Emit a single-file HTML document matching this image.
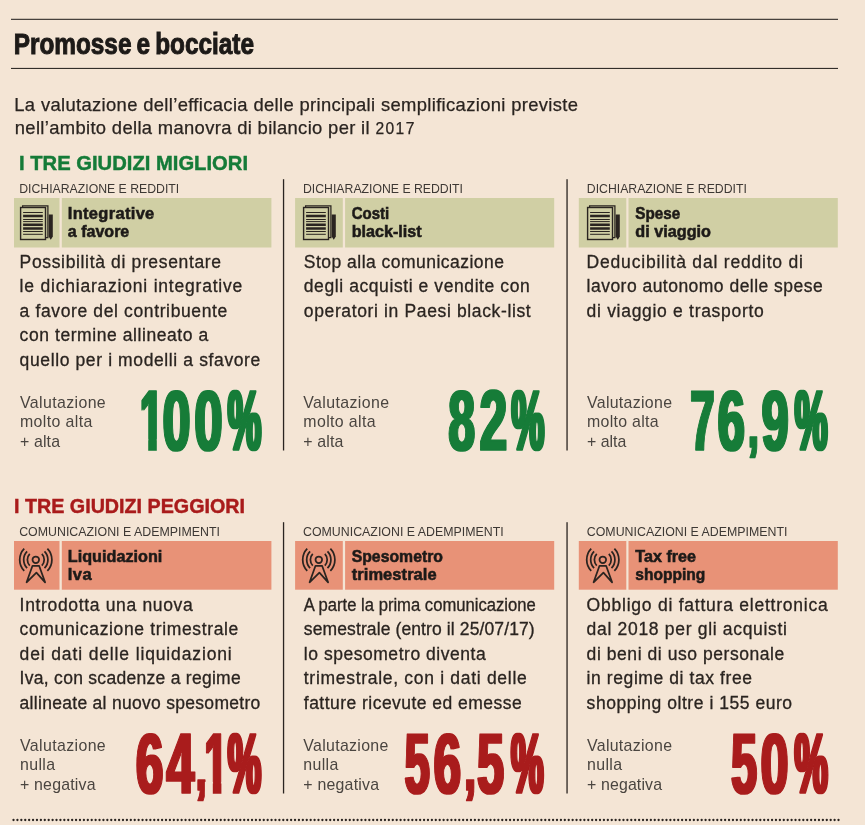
<!DOCTYPE html>
<html lang="it">
<head>
<meta charset="utf-8">
<title>Promosse e bocciate</title>
<style>
html,body{margin:0;padding:0;background:#f4e5d5;}
body{width:865px;height:825px;overflow:hidden;}
svg{display:block;font-family:"Liberation Sans",sans-serif;}
</style>
</head>
<body>
<svg width="865" height="825" viewBox="0 0 865 825">
<defs><filter id="fat" x="-5%" y="-5%" width="110%" height="110%"><feMorphology operator="dilate" radius="1 0"/></filter></defs>
<rect width="865" height="825" fill="#f4e5d5"/>
<rect x="11.0" y="18.8" width="827.0" height="1.0" fill="#1d1a18"/>
<rect x="11.0" y="67.9" width="827.0" height="1.0" fill="#1d1a18"/>
<text x="13.7" y="54.2" font-size="29" font-weight="700" fill="#1d1a18" textLength="240.3" lengthAdjust="spacingAndGlyphs" word-spacing="-2" stroke="#1d1a18" stroke-width="1.0">Promosse e bocciate</text>
<text x="14.3" y="111.2" font-size="18.4" font-weight="400" fill="#2a2420" textLength="563.7" lengthAdjust="spacing" stroke="#2a2420" stroke-width="0.25">La valutazione dell’efficacia delle principali semplificazioni previste</text>
<text x="14.8" y="133.7" font-size="18.4" font-weight="400" fill="#2a2420" textLength="400.7" lengthAdjust="spacing" stroke="#2a2420" stroke-width="0.25">nell’ambito della manovra di bilancio per il <tspan font-size="15.6" letter-spacing="1.1">2017</tspan></text>
<g class="section section-doc">
<text x="19.0" y="169.8" font-size="21" font-weight="700" fill="#157b38" textLength="229.0" lengthAdjust="spacingAndGlyphs" stroke="#157b38" stroke-width="0.45">I TRE GIUDIZI MIGLIORI</text>
<rect x="282.9" y="179.2" width="1.3" height="271.3" fill="#2a2420"/>
<rect x="566.4" y="179.2" width="1.3" height="271.3" fill="#2a2420"/>
<g class="card">
<text x="19.2" y="193.0" font-size="13.5" font-weight="400" fill="#3d3834" textLength="160.0" lengthAdjust="spacingAndGlyphs">DICHIARAZIONE E REDDITI</text>
<rect x="14.0" y="198.0" width="45.5" height="49.5" fill="#d0cfa4"/>
<rect x="61.8" y="198.0" width="209.6" height="49.5" fill="#d0cfa4"/>
<g transform="translate(14.0,198.0)" fill="none" stroke="#2a2420">
<path d="M8.6 9 V7.9 H33.9 V39.5 H32" stroke-width="1.25"/>
<rect x="6.6" y="9.5" width="24.9" height="32" stroke-width="1.4" fill="#d0cfa4"/>
<path d="M9.1 14.5H28.8M9.1 21.5H28.8M9.1 23.6H28.8M9.1 33.5H28.8M9.1 36.3H28.8" stroke-width="1"/>
<path d="M9.1 17.9H28.8M9.1 26.7H28.8M9.1 30.6H28.8" stroke-width="2.5"/>
<path d="M34.7 16.6 h4.1 v21.8 l-2.05 3.4 l-2.05 -3.4 z" fill="#2a2420" stroke="none"/>
</g>
<text x="67.8" y="218.6" font-size="16.5" font-weight="700" fill="#1d1a18" textLength="86.5" lengthAdjust="spacing" stroke="#1d1a18" stroke-width="0.55">Integrative</text>
<text x="67.8" y="237.0" font-size="16.5" font-weight="700" fill="#1d1a18" textLength="61.5" lengthAdjust="spacingAndGlyphs" stroke="#1d1a18" stroke-width="0.55">a favore</text>
<text x="19.6" y="267.8" font-size="17.5" font-weight="400" fill="#2a2420" textLength="201.4" lengthAdjust="spacing" stroke="#2a2420" stroke-width="0.3">Possibilità di presentare</text>
<text x="19.6" y="292.3" font-size="17.5" font-weight="400" fill="#2a2420" textLength="222.7" lengthAdjust="spacing" stroke="#2a2420" stroke-width="0.3">le dichiarazioni integrative</text>
<text x="19.6" y="316.9" font-size="17.5" font-weight="400" fill="#2a2420" textLength="207.7" lengthAdjust="spacing" stroke="#2a2420" stroke-width="0.3">a favore del contribuente</text>
<text x="19.6" y="341.4" font-size="17.5" font-weight="400" fill="#2a2420" textLength="188.7" lengthAdjust="spacing" stroke="#2a2420" stroke-width="0.3">con termine allineato a</text>
<text x="19.6" y="365.9" font-size="17.5" font-weight="400" fill="#2a2420" textLength="240.7" lengthAdjust="spacing" stroke="#2a2420" stroke-width="0.3">quello per i modelli a sfavore</text>
<text x="20.0" y="407.7" font-size="15.9" font-weight="400" fill="#4a4540" textLength="85.7" lengthAdjust="spacing">Valutazione</text>
<text x="20.0" y="427.2" font-size="15.9" font-weight="400" fill="#4a4540" textLength="72.3" lengthAdjust="spacing">molto alta</text>
<text x="20.0" y="446.7" font-size="15.9" font-weight="400" fill="#4a4540" textLength="40.0" lengthAdjust="spacing">+ alta</text>
<text aria-label="100%" y="449.9" font-size="85.5" font-weight="700" fill="#157b38" stroke="#157b38" stroke-width="1.6" stroke-linejoin="round" filter="url(#fat)"><tspan x="139.90" textLength="23.18" lengthAdjust="spacingAndGlyphs">1</tspan><tspan x="162.79" textLength="27.60" lengthAdjust="spacingAndGlyphs">0</tspan><tspan x="194.56" textLength="27.95" lengthAdjust="spacingAndGlyphs">0</tspan><tspan x="227.81" font-size="83.5" dy="-0.9" stroke-width="2.6" textLength="33.53" lengthAdjust="spacingAndGlyphs">%</tspan></text>
</g>
<g class="card">
<text x="303.0" y="193.0" font-size="13.5" font-weight="400" fill="#3d3834" textLength="160.0" lengthAdjust="spacingAndGlyphs">DICHIARAZIONE E REDDITI</text>
<rect x="295.1" y="198.0" width="47.7" height="49.5" fill="#d0cfa4"/>
<rect x="345.1" y="198.0" width="209.1" height="49.5" fill="#d0cfa4"/>
<g transform="translate(297.0,198.0)" fill="none" stroke="#2a2420">
<path d="M8.6 9 V7.9 H33.9 V39.5 H32" stroke-width="1.25"/>
<rect x="6.6" y="9.5" width="24.9" height="32" stroke-width="1.4" fill="#d0cfa4"/>
<path d="M9.1 14.5H28.8M9.1 21.5H28.8M9.1 23.6H28.8M9.1 33.5H28.8M9.1 36.3H28.8" stroke-width="1"/>
<path d="M9.1 17.9H28.8M9.1 26.7H28.8M9.1 30.6H28.8" stroke-width="2.5"/>
<path d="M34.7 16.6 h4.1 v21.8 l-2.05 3.4 l-2.05 -3.4 z" fill="#2a2420" stroke="none"/>
</g>
<text x="351.7" y="218.6" font-size="16.5" font-weight="700" fill="#1d1a18" textLength="37.6" lengthAdjust="spacingAndGlyphs" stroke="#1d1a18" stroke-width="0.55">Costi</text>
<text x="351.7" y="237.0" font-size="16.5" font-weight="700" fill="#1d1a18" textLength="70.0" lengthAdjust="spacingAndGlyphs" stroke="#1d1a18" stroke-width="0.55">black-list</text>
<text x="303.8" y="267.8" font-size="17.5" font-weight="400" fill="#2a2420" textLength="200.2" lengthAdjust="spacing" stroke="#2a2420" stroke-width="0.3">Stop alla comunicazione</text>
<text x="303.8" y="292.3" font-size="17.5" font-weight="400" fill="#2a2420" textLength="225.9" lengthAdjust="spacing" stroke="#2a2420" stroke-width="0.3">degli acquisti e vendite con</text>
<text x="303.8" y="316.9" font-size="17.5" font-weight="400" fill="#2a2420" textLength="226.9" lengthAdjust="spacing" stroke="#2a2420" stroke-width="0.3">operatori in Paesi black-list</text>
<text x="303.3" y="407.7" font-size="15.9" font-weight="400" fill="#4a4540" textLength="85.7" lengthAdjust="spacing">Valutazione</text>
<text x="303.3" y="427.2" font-size="15.9" font-weight="400" fill="#4a4540" textLength="72.3" lengthAdjust="spacing">molto alta</text>
<text x="303.3" y="446.7" font-size="15.9" font-weight="400" fill="#4a4540" textLength="40.0" lengthAdjust="spacing">+ alta</text>
<text aria-label="82%" y="449.9" font-size="85.5" font-weight="700" fill="#157b38" stroke="#157b38" stroke-width="1.6" stroke-linejoin="round" filter="url(#fat)"><tspan x="448.55" textLength="26.36" lengthAdjust="spacingAndGlyphs">8</tspan><tspan x="479.65" textLength="27.26" lengthAdjust="spacingAndGlyphs">2</tspan><tspan x="511.53" font-size="83.5" dy="-0.9" stroke-width="2.6" textLength="32.79" lengthAdjust="spacingAndGlyphs">%</tspan></text>
</g>
<g class="card">
<text x="586.8" y="193.0" font-size="13.5" font-weight="400" fill="#3d3834" textLength="160.0" lengthAdjust="spacingAndGlyphs">DICHIARAZIONE E REDDITI</text>
<rect x="578.8" y="198.0" width="47.5" height="49.5" fill="#d0cfa4"/>
<rect x="628.5" y="198.0" width="209.3" height="49.5" fill="#d0cfa4"/>
<g transform="translate(581.0,198.0)" fill="none" stroke="#2a2420">
<path d="M8.6 9 V7.9 H33.9 V39.5 H32" stroke-width="1.25"/>
<rect x="6.6" y="9.5" width="24.9" height="32" stroke-width="1.4" fill="#d0cfa4"/>
<path d="M9.1 14.5H28.8M9.1 21.5H28.8M9.1 23.6H28.8M9.1 33.5H28.8M9.1 36.3H28.8" stroke-width="1"/>
<path d="M9.1 17.9H28.8M9.1 26.7H28.8M9.1 30.6H28.8" stroke-width="2.5"/>
<path d="M34.7 16.6 h4.1 v21.8 l-2.05 3.4 l-2.05 -3.4 z" fill="#2a2420" stroke="none"/>
</g>
<text x="635.3" y="218.6" font-size="16.5" font-weight="700" fill="#1d1a18" textLength="45.0" lengthAdjust="spacingAndGlyphs" stroke="#1d1a18" stroke-width="0.55">Spese</text>
<text x="635.3" y="237.0" font-size="16.5" font-weight="700" fill="#1d1a18" textLength="75.7" lengthAdjust="spacingAndGlyphs" stroke="#1d1a18" stroke-width="0.55">di viaggio</text>
<text x="586.6" y="267.8" font-size="17.5" font-weight="400" fill="#2a2420" textLength="216.4" lengthAdjust="spacing" stroke="#2a2420" stroke-width="0.3">Deducibilità dal reddito di</text>
<text x="586.6" y="292.3" font-size="17.5" font-weight="400" fill="#2a2420" textLength="236.1" lengthAdjust="spacing" stroke="#2a2420" stroke-width="0.3">lavoro autonomo delle spese</text>
<text x="586.6" y="316.9" font-size="17.5" font-weight="400" fill="#2a2420" textLength="177.1" lengthAdjust="spacing" stroke="#2a2420" stroke-width="0.3">di viaggio e trasporto</text>
<text x="587.0" y="407.7" font-size="15.9" font-weight="400" fill="#4a4540" textLength="85.0" lengthAdjust="spacing">Valutazione</text>
<text x="587.0" y="427.2" font-size="15.9" font-weight="400" fill="#4a4540" textLength="71.6" lengthAdjust="spacing">molto alta</text>
<text x="587.0" y="446.7" font-size="15.9" font-weight="400" fill="#4a4540" textLength="39.3" lengthAdjust="spacingAndGlyphs">+ alta</text>
<text aria-label="76,9%" y="449.9" font-size="85.5" font-weight="700" fill="#157b38" stroke="#157b38" stroke-width="1.6" stroke-linejoin="round" filter="url(#fat)"><tspan x="690.60" textLength="23.94" lengthAdjust="spacingAndGlyphs">7</tspan><tspan x="717.87" textLength="27.04" lengthAdjust="spacingAndGlyphs">6</tspan><tspan x="748.48" font-size="66" dy="-3" textLength="9.71" lengthAdjust="spacingAndGlyphs">,</tspan><tspan x="761.68" dy="3" textLength="26.87" lengthAdjust="spacingAndGlyphs">9</tspan><tspan x="794.73" font-size="83.5" dy="-0.9" stroke-width="2.6" textLength="32.79" lengthAdjust="spacingAndGlyphs">%</tspan></text>
</g>
</g>
<g class="section section-ant">
<text x="14.0" y="513.2" font-size="21" font-weight="700" fill="#a91b1b" textLength="231.0" lengthAdjust="spacingAndGlyphs" stroke="#a91b1b" stroke-width="0.45">I TRE GIUDIZI PEGGIORI</text>
<rect x="282.9" y="522.2" width="1.3" height="271.3" fill="#2a2420"/>
<rect x="566.4" y="522.2" width="1.3" height="271.3" fill="#2a2420"/>
<g class="card">
<text x="19.2" y="536.0" font-size="13.5" font-weight="400" fill="#3d3834" textLength="200.7" lengthAdjust="spacingAndGlyphs">COMUNICAZIONI E ADEMPIMENTI</text>
<rect x="14.0" y="541.0" width="45.5" height="48.7" fill="#e89277"/>
<rect x="61.8" y="541.0" width="209.6" height="48.7" fill="#e89277"/>
<g transform="translate(14.0,541.0)" fill="none" stroke="#2a2420" stroke-width="1.75" stroke-linejoin="round">
<circle cx="21.8" cy="18.8" r="3.3"/>
<path d="M18.5 24.8 L12.6 41.3 L22.4 31.7 L31.1 41.3 L25.1 24.8 Z"/>
<path d="M15.76 12.96A8.4 8.4 0 0 0 15.76 24.64M27.84 12.96A8.4 8.4 0 0 1 27.84 24.64M13.10 10.39A12.1 12.1 0 0 0 13.10 27.21M30.50 10.39A12.1 12.1 0 0 1 30.50 27.21M10.22 7.62A16.1 16.1 0 0 0 10.22 29.98M33.38 7.62A16.1 16.1 0 0 1 33.38 29.98" stroke-linecap="butt"/>
</g>
<text x="67.8" y="561.6" font-size="16.5" font-weight="700" fill="#1d1a18" textLength="94.5" lengthAdjust="spacingAndGlyphs" stroke="#1d1a18" stroke-width="0.55">Liquidazioni</text>
<text x="67.8" y="580.0" font-size="16.5" font-weight="700" fill="#1d1a18" textLength="23.9" lengthAdjust="spacing" stroke="#1d1a18" stroke-width="0.55">Iva</text>
<text x="19.6" y="610.8" font-size="17.5" font-weight="400" fill="#2a2420" textLength="173.1" lengthAdjust="spacing" stroke="#2a2420" stroke-width="0.3">Introdotta una nuova</text>
<text x="19.6" y="635.3" font-size="17.5" font-weight="400" fill="#2a2420" textLength="218.7" lengthAdjust="spacing" stroke="#2a2420" stroke-width="0.3">comunicazione trimestrale</text>
<text x="19.6" y="659.9" font-size="17.5" font-weight="400" fill="#2a2420" textLength="212.1" lengthAdjust="spacing" stroke="#2a2420" stroke-width="0.3">dei dati delle liquidazioni</text>
<text x="19.6" y="684.4" font-size="17.5" font-weight="400" fill="#2a2420" textLength="221.1" lengthAdjust="spacing" stroke="#2a2420" stroke-width="0.3">Iva, con scadenze a regime</text>
<text x="19.6" y="708.9" font-size="17.5" font-weight="400" fill="#2a2420" textLength="240.7" lengthAdjust="spacing" stroke="#2a2420" stroke-width="0.3">allineate al nuovo spesometro</text>
<text x="20.0" y="750.7" font-size="15.9" font-weight="400" fill="#4a4540" textLength="85.7" lengthAdjust="spacing">Valutazione</text>
<text x="20.0" y="770.2" font-size="15.9" font-weight="400" fill="#4a4540" textLength="35.0" lengthAdjust="spacing">nulla</text>
<text x="20.0" y="789.7" font-size="15.9" font-weight="400" fill="#4a4540" textLength="75.5" lengthAdjust="spacing">+ negativa</text>
<text aria-label="64,1%" y="792.9" font-size="85.5" font-weight="700" fill="#a91b1b" stroke="#a91b1b" stroke-width="1.6" stroke-linejoin="round" filter="url(#fat)"><tspan x="135.95" textLength="27.27" lengthAdjust="spacingAndGlyphs">6</tspan><tspan x="166.60" textLength="27.72" lengthAdjust="spacingAndGlyphs">4</tspan><tspan x="196.24" font-size="66" dy="-3" textLength="10.29" lengthAdjust="spacingAndGlyphs">,</tspan><tspan x="204.62" dy="3" textLength="23.00" lengthAdjust="spacingAndGlyphs">1</tspan><tspan x="227.81" font-size="83.5" dy="-0.9" stroke-width="2.6" textLength="33.43" lengthAdjust="spacingAndGlyphs">%</tspan></text>
</g>
<g class="card">
<text x="303.0" y="536.0" font-size="13.5" font-weight="400" fill="#3d3834" textLength="200.7" lengthAdjust="spacingAndGlyphs">COMUNICAZIONI E ADEMPIMENTI</text>
<rect x="295.1" y="541.0" width="47.7" height="48.7" fill="#e89277"/>
<rect x="345.1" y="541.0" width="209.1" height="48.7" fill="#e89277"/>
<g transform="translate(297.0,541.0)" fill="none" stroke="#2a2420" stroke-width="1.75" stroke-linejoin="round">
<circle cx="21.8" cy="18.8" r="3.3"/>
<path d="M18.5 24.8 L12.6 41.3 L22.4 31.7 L31.1 41.3 L25.1 24.8 Z"/>
<path d="M15.76 12.96A8.4 8.4 0 0 0 15.76 24.64M27.84 12.96A8.4 8.4 0 0 1 27.84 24.64M13.10 10.39A12.1 12.1 0 0 0 13.10 27.21M30.50 10.39A12.1 12.1 0 0 1 30.50 27.21M10.22 7.62A16.1 16.1 0 0 0 10.22 29.98M33.38 7.62A16.1 16.1 0 0 1 33.38 29.98" stroke-linecap="butt"/>
</g>
<text x="351.7" y="561.6" font-size="16.5" font-weight="700" fill="#1d1a18" textLength="91.3" lengthAdjust="spacingAndGlyphs" stroke="#1d1a18" stroke-width="0.55">Spesometro</text>
<text x="351.7" y="580.0" font-size="16.5" font-weight="700" fill="#1d1a18" textLength="85.0" lengthAdjust="spacing" stroke="#1d1a18" stroke-width="0.55">trimestrale</text>
<text x="303.8" y="610.8" font-size="17.5" font-weight="400" fill="#2a2420" textLength="231.9" lengthAdjust="spacingAndGlyphs" stroke="#2a2420" stroke-width="0.3">A parte la prima comunicazione</text>
<text x="303.8" y="635.3" font-size="17.5" font-weight="400" fill="#2a2420" textLength="230.9" lengthAdjust="spacing" stroke="#2a2420" stroke-width="0.3">semestrale (entro il 25/07/17)</text>
<text x="303.8" y="659.9" font-size="17.5" font-weight="400" fill="#2a2420" textLength="181.9" lengthAdjust="spacing" stroke="#2a2420" stroke-width="0.3">lo spesometro diventa</text>
<text x="303.8" y="684.4" font-size="17.5" font-weight="400" fill="#2a2420" textLength="222.9" lengthAdjust="spacing" stroke="#2a2420" stroke-width="0.3">trimestrale, con i dati delle</text>
<text x="303.8" y="708.9" font-size="17.5" font-weight="400" fill="#2a2420" textLength="217.9" lengthAdjust="spacing" stroke="#2a2420" stroke-width="0.3">fatture ricevute ed emesse</text>
<text x="303.3" y="750.7" font-size="15.9" font-weight="400" fill="#4a4540" textLength="85.0" lengthAdjust="spacing">Valutazione</text>
<text x="303.3" y="770.2" font-size="15.9" font-weight="400" fill="#4a4540" textLength="35.0" lengthAdjust="spacing">nulla</text>
<text x="303.3" y="789.7" font-size="15.9" font-weight="400" fill="#4a4540" textLength="75.7" lengthAdjust="spacing">+ negativa</text>
<text aria-label="56,5%" y="792.9" font-size="85.5" font-weight="700" fill="#a91b1b" stroke="#a91b1b" stroke-width="1.6" stroke-linejoin="round" filter="url(#fat)"><tspan x="404.67" textLength="24.93" lengthAdjust="spacingAndGlyphs">5</tspan><tspan x="433.86" textLength="27.15" lengthAdjust="spacingAndGlyphs">6</tspan><tspan x="464.64" font-size="66" dy="-3" textLength="10.68" lengthAdjust="spacingAndGlyphs">,</tspan><tspan x="477.27" dy="3" textLength="26.71" lengthAdjust="spacingAndGlyphs">5</tspan><tspan x="511.04" font-size="83.5" dy="-0.9" stroke-width="2.6" textLength="32.58" lengthAdjust="spacingAndGlyphs">%</tspan></text>
</g>
<g class="card">
<text x="586.8" y="536.0" font-size="13.5" font-weight="400" fill="#3d3834" textLength="200.7" lengthAdjust="spacingAndGlyphs">COMUNICAZIONI E ADEMPIMENTI</text>
<rect x="578.8" y="541.0" width="47.5" height="48.7" fill="#e89277"/>
<rect x="628.5" y="541.0" width="209.3" height="48.7" fill="#e89277"/>
<g transform="translate(581.0,541.0)" fill="none" stroke="#2a2420" stroke-width="1.75" stroke-linejoin="round">
<circle cx="21.8" cy="18.8" r="3.3"/>
<path d="M18.5 24.8 L12.6 41.3 L22.4 31.7 L31.1 41.3 L25.1 24.8 Z"/>
<path d="M15.76 12.96A8.4 8.4 0 0 0 15.76 24.64M27.84 12.96A8.4 8.4 0 0 1 27.84 24.64M13.10 10.39A12.1 12.1 0 0 0 13.10 27.21M30.50 10.39A12.1 12.1 0 0 1 30.50 27.21M10.22 7.62A16.1 16.1 0 0 0 10.22 29.98M33.38 7.62A16.1 16.1 0 0 1 33.38 29.98" stroke-linecap="butt"/>
</g>
<text x="635.3" y="561.6" font-size="16.5" font-weight="700" fill="#1d1a18" textLength="60.7" lengthAdjust="spacingAndGlyphs" stroke="#1d1a18" stroke-width="0.55">Tax free</text>
<text x="635.3" y="580.0" font-size="16.5" font-weight="700" fill="#1d1a18" textLength="70.0" lengthAdjust="spacingAndGlyphs" stroke="#1d1a18" stroke-width="0.55">shopping</text>
<text x="586.6" y="610.8" font-size="17.5" font-weight="400" fill="#2a2420" textLength="241.1" lengthAdjust="spacing" stroke="#2a2420" stroke-width="0.3">Obbligo di fattura elettronica</text>
<text x="586.6" y="635.3" font-size="17.5" font-weight="400" fill="#2a2420" textLength="200.4" lengthAdjust="spacing" stroke="#2a2420" stroke-width="0.3">dal 2018 per gli acquisti</text>
<text x="586.6" y="659.9" font-size="17.5" font-weight="400" fill="#2a2420" textLength="197.7" lengthAdjust="spacing" stroke="#2a2420" stroke-width="0.3">di beni di uso personale</text>
<text x="586.6" y="684.4" font-size="17.5" font-weight="400" fill="#2a2420" textLength="165.4" lengthAdjust="spacing" stroke="#2a2420" stroke-width="0.3">in regime di tax free</text>
<text x="586.6" y="708.9" font-size="17.5" font-weight="400" fill="#2a2420" textLength="205.4" lengthAdjust="spacing" stroke="#2a2420" stroke-width="0.3">shopping oltre i 155 euro</text>
<text x="587.0" y="750.7" font-size="15.9" font-weight="400" fill="#4a4540" textLength="85.0" lengthAdjust="spacing">Valutazione</text>
<text x="587.0" y="770.2" font-size="15.9" font-weight="400" fill="#4a4540" textLength="35.0" lengthAdjust="spacing">nulla</text>
<text x="587.0" y="789.7" font-size="15.9" font-weight="400" fill="#4a4540" textLength="75.0" lengthAdjust="spacing">+ negativa</text>
<text aria-label="50%" y="792.9" font-size="85.5" font-weight="700" fill="#a91b1b" stroke="#a91b1b" stroke-width="1.6" stroke-linejoin="round" filter="url(#fat)"><tspan x="731.13" textLength="25.71" lengthAdjust="spacingAndGlyphs">5</tspan><tspan x="760.69" textLength="27.60" lengthAdjust="spacingAndGlyphs">0</tspan><tspan x="794.52" font-size="83.5" dy="-0.9" stroke-width="2.6" textLength="33.32" lengthAdjust="spacingAndGlyphs">%</tspan></text>
</g>
</g>
<rect x="140.2" y="438.9" width="8.0" height="14.0" fill="#f4e5d5"/>
<rect x="156.8" y="438.9" width="8.0" height="14.0" fill="#f4e5d5"/>
<rect x="204.9" y="781.9" width="7.9" height="14.0" fill="#f4e5d5"/>
<rect x="221.4" y="781.9" width="8.0" height="14.0" fill="#f4e5d5"/>
<line x1="13.5" y1="820" x2="839" y2="820" stroke="#2a2420" stroke-width="2.3" stroke-dasharray="0.01 3.9" stroke-linecap="round"/>
</svg>
</body>
</html>
